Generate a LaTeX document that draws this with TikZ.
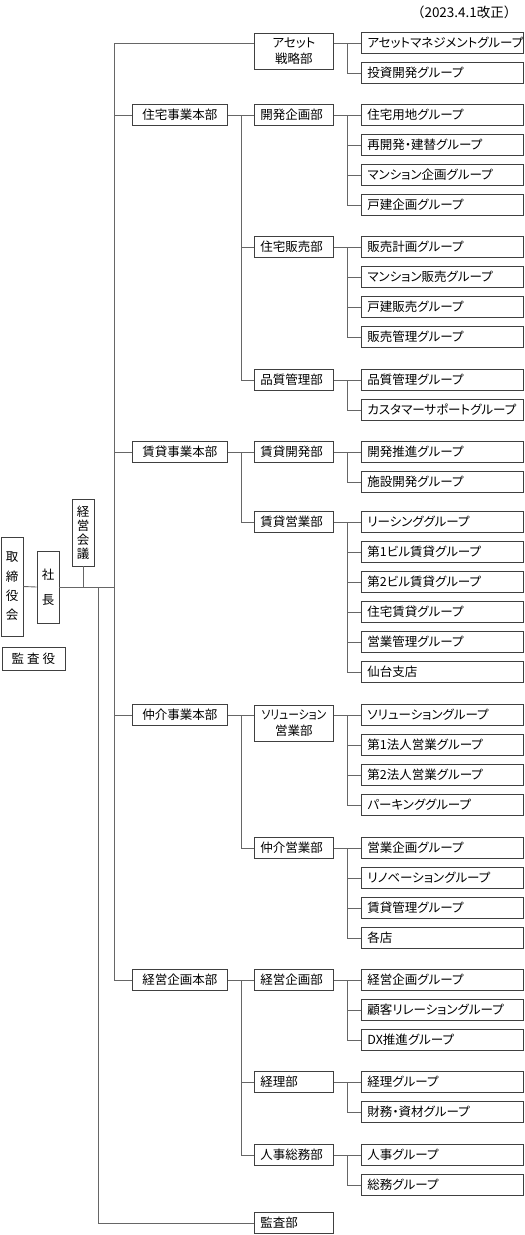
\documentclass[tikz,border=0pt]{standalone}
\usepackage{fontspec}
\newfontfamily\jp[RawFeature={+palt}]{Noto Sans CJK JP}
\newfontfamily\jpn[RawFeature={+palt}, FakeStretch=0.86]{Noto Sans CJK JP}
\newfontfamily\jpf{Noto Sans CJK JP}
\usetikzlibrary{calc}

\begin{document}
\begin{tikzpicture}[x=1pt, y=-1pt,
    line/.style={draw=black!60, line width=0.9pt},
    box/.style={draw=black!75, line width=0.9pt, fill=white, inner sep=0pt,
                font=\jp\fontsize{12.5}{16}\selectfont},
    grp/.style={box, anchor=west, minimum height=21.5pt, text width=150pt, inner xsep=6pt, align=left},
    dept/.style={box, anchor=west, minimum height=21.5pt, text width=67pt, inner xsep=6pt, align=left},
    dept2/.style={box, anchor=north west, minimum height=36pt, text width=67pt, inner xsep=6pt, align=center},
    hq/.style={box, anchor=west, minimum height=21.5pt, minimum width=95pt, align=center},
    vbox/.style={box, minimum width=22pt, align=center}]
    \useasboundingbox (0,0) rectangle (525,1235);

    \node[anchor=east, font=\jpf\fontsize{13.5}{15}\selectfont] (date) at (521,12) {（2023.4.1改正）};

    % top level
    \node[vbox, minimum height=99pt, font=\jp\fontsize{12.5}{19.3}\selectfont] (board) at (12,586.5) {取\\締\\役\\会};
    \node[vbox, minimum height=72pt, font=\jp\fontsize{12.5}{25}\selectfont] (pres) at (48,587) {社\\長};
    \node[vbox, minimum height=67pt, font=\jp\fontsize{12.5}{14}\selectfont] (mtg) at (83,532.5) {経\\営\\会\\議};
    \node[box, minimum width=63pt, minimum height=23pt] (auditor) at (33.5,658.5) {監\hspace{3pt}査\hspace{3pt}役};

    % headquarters
    \node[hq] (hqHouse) at (132,115) {住宅事業本部};
    \node[hq] (hqRent) at (132,452) {賃貸事業本部};
    \node[hq] (hqBroker) at (132,715) {仲介事業本部};
    \node[hq] (hqPlan) at (132,980) {経営企画本部};

    % departments
    \node[dept2] (dAsset) at (254,33) {アセット\\戦略部};
    \node[dept] (dDev) at (254,115) {開発企画部};
    \node[dept] (dSales) at (254,247) {住宅販売部};
    \node[dept] (dQual) at (254,380) {品質管理部};
    \node[dept] (dRdev) at (254,452) {賃貸開発部};
    \node[dept] (dRsales) at (254,522) {賃貸営業部};
    \node[dept2] (dSol) at (254,704.5) {{\jpn ソリューション}\\営業部};
    \node[dept] (dBrk) at (254,848) {仲介営業部};
    \node[dept] (dPlan) at (254,980) {経営企画部};
    \node[dept] (dAcct) at (254,1082) {経理部};
    \node[dept] (dHr) at (254,1155) {人事総務部};
    \node[dept] (dAudit) at (254,1223) {監査部};

    % groups
    \node[grp] (gA1) at (361,43) {アセットマネジメントグループ};
    \node[grp] (gA2) at (361,73) {投資開発グループ};
    \node[grp] (gD1) at (361,115) {住宅用地グループ};
    \node[grp] (gD2) at (361,145) {再開発・建替グループ};
    \node[grp] (gD3) at (361,175) {マンション企画グループ};
    \node[grp] (gD4) at (361,205) {戸建企画グループ};
    \node[grp] (gS1) at (361,247) {販売計画グループ};
    \node[grp] (gS2) at (361,277) {マンション販売グループ};
    \node[grp] (gS3) at (361,307) {戸建販売グループ};
    \node[grp] (gS4) at (361,337) {販売管理グループ};
    \node[grp] (gQ1) at (361,380) {品質管理グループ};
    \node[grp] (gQ2) at (361,410) {カスタマーサポートグループ};
    \node[grp] (gRD1) at (361,452) {開発推進グループ};
    \node[grp] (gRD2) at (361,482) {施設開発グループ};
    \node[grp] (gRS1) at (361,522) {リーシンググループ};
    \node[grp] (gRS2) at (361,552) {第1ビル賃貸グループ};
    \node[grp] (gRS3) at (361,582) {第2ビル賃貸グループ};
    \node[grp] (gRS4) at (361,612) {住宅賃貸グループ};
    \node[grp] (gRS5) at (361,642) {営業管理グループ};
    \node[grp] (gRS6) at (361,672) {仙台支店};
    \node[grp] (gSo1) at (361,715) {ソリューショングループ};
    \node[grp] (gSo2) at (361,745) {第1法人営業グループ};
    \node[grp] (gSo3) at (361,775) {第2法人営業グループ};
    \node[grp] (gSo4) at (361,805) {パーキンググループ};
    \node[grp] (gB1) at (361,848) {営業企画グループ};
    \node[grp] (gB2) at (361,878) {リノベーショングループ};
    \node[grp] (gB3) at (361,908) {賃貸管理グループ};
    \node[grp] (gB4) at (361,938) {各店};
    \node[grp] (gP1) at (361,980) {経営企画グループ};
    \node[grp] (gP2) at (361,1010) {顧客リレーショングループ};
    \node[grp] (gP3) at (361,1040) {DX推進グループ};
    \node[grp] (gAc1) at (361,1082) {経理グループ};
    \node[grp] (gAc2) at (361,1112) {財務・資材グループ};
    \node[grp] (gH1) at (361,1155) {人事グループ};
    \node[grp] (gH2) at (361,1185) {総務グループ};

    % spine
    \coordinate (sp) at (114,43);
    \coordinate (au) at (98,587);
    \draw[line] (sp) -- (dAsset.west |- sp);
    \draw[line] (sp) |- (hqPlan.west);
    \foreach \n in {hqHouse, hqRent, hqBroker}
        \draw[line] (sp |- \n.west) -- (\n.west);
    \draw[line] (board.east) -- (pres.west);
    \draw[line] (pres.east) -- (sp |- pres.east);
    \draw[line] (mtg.south) -- (mtg.south |- pres.east);
    \draw[line] (au) |- (dAudit.west);

    % headquarters to departments
    \draw[line] (hqHouse.east) -- (dDev.west);
    \draw[line] (hqRent.east) -- (dRdev.west);
    \draw[line] (hqBroker.east) -- (dSol.west |- hqBroker.east);
    \draw[line] (hqPlan.east) -- (dPlan.west);
    \foreach \h/\d in {hqHouse/dSales, hqHouse/dQual, hqRent/dRsales, hqBroker/dBrk, hqPlan/dAcct, hqPlan/dHr}
        \draw[line] (\h.east) ++(14,0) |- (\d.west);

    % departments to groups
    \draw[line] (dAsset.east |- gA1.west) -- (gA1.west);
    \draw[line] (dAsset.east |- gA1.west) ++(14,0) |- (gA2.west);
    \draw[line] (dSol.east |- gSo1.west) -- (gSo1.west);
    \foreach \g in {gSo2, gSo3, gSo4}
        \draw[line] (dSol.east |- gSo1.west) ++(14,0) |- (\g.west);
    \foreach \d/\g in {dDev/gD1, dSales/gS1, dQual/gQ1, dRdev/gRD1, dRsales/gRS1, dBrk/gB1, dPlan/gP1, dAcct/gAc1, dHr/gH1}
        \draw[line] (\d.east) -- (\g.west);
    \foreach \d/\g in {dDev/gD2, dDev/gD3, dDev/gD4, dSales/gS2, dSales/gS3, dSales/gS4, dQual/gQ2,
                      dRdev/gRD2, dRsales/gRS2, dRsales/gRS3, dRsales/gRS4, dRsales/gRS5, dRsales/gRS6,
                      dBrk/gB2, dBrk/gB3, dBrk/gB4, dPlan/gP2, dPlan/gP3, dAcct/gAc2, dHr/gH2}
        \draw[line] (\d.east) ++(14,0) |- (\g.west);
\end{tikzpicture}
\end{document}
